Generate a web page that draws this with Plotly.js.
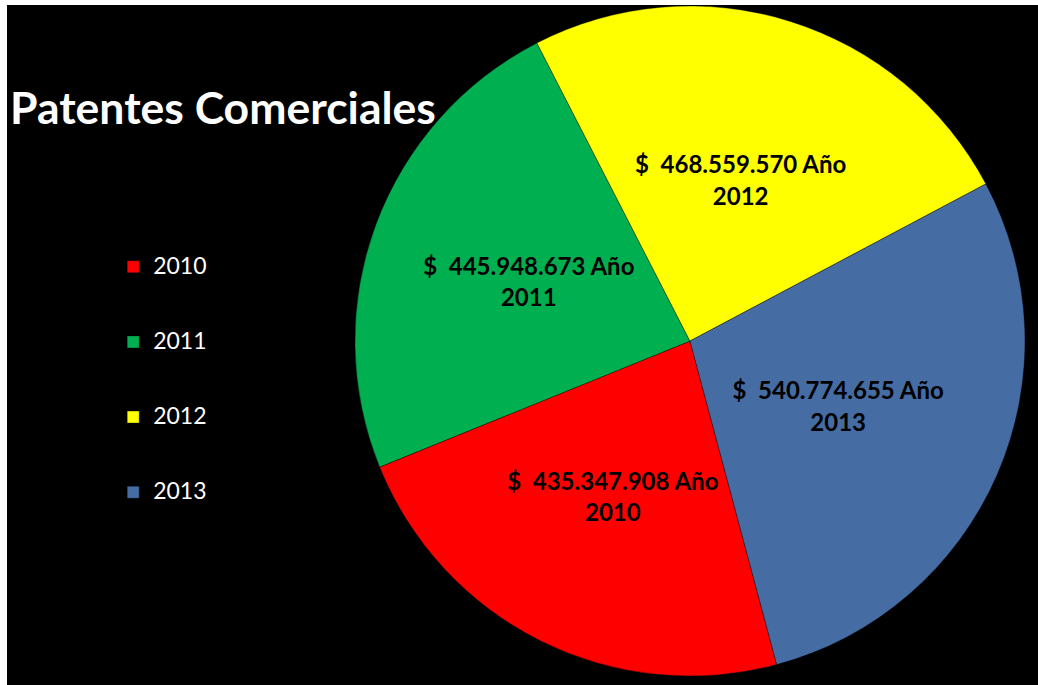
<!DOCTYPE html>
<html>
<head>
<meta charset="utf-8">
<script src="https://cdn.plot.ly/plotly-3.0.1.min.js"></script>
<style>
html, body { margin: 0; padding: 0; background: #ffffff; width: 1038px; height: 685px; overflow: hidden; }
#chart { position: absolute; left: 7px; top: 5px; width: 1031px; height: 680px; }
</style>
</head>
<body>
<div id="chart"></div>
<script>
const years = ['2010', '2011', '2012', '2013'];
const amounts = [435347908, 445948673, 468559570, 540774655];
const sliceColors = ['#ff0000', '#00b050', '#ffff00', '#456ca3'];
const chartTitle = 'Patentes Comerciales';

// main pie: slices + legend
const pieTrace = {
  type: 'pie',
  labels: years.map(y => '<br><span style="font-size:23px">' + y + '</span><br> '),
  values: amounts,
  sort: false,
  direction: 'clockwise',
  rotation: 165,
  marker: { colors: sliceColors, line: { color: 'rgba(0,0,0,0.35)', width: 1 } },
  textinfo: 'none',
  hoverinfo: 'none',
  domain: { x: [0.3375, 0.9874], y: [0.0132, 0.9985] }
};

// same data, transparent, smaller radius: only carries the data labels
const labelTrace = {
  type: 'pie',
  labels: years,
  values: amounts,
  customdata: years,
  sort: false,
  direction: 'clockwise',
  rotation: 165,
  showlegend: false,
  marker: { colors: years.map(() => 'rgba(0,0,0,0)'), line: { width: 0 } },
  texttemplate: '$\u00a0\u00a0%{value:,.0f} Año<br>%{customdata}',
  textposition: 'inside',
  insidetextorientation: 'horizontal',
  textfont: { family: 'Lato, sans-serif', size: 24, color: '#000000', weight: 'bold' },
  hoverinfo: 'none',
  domain: { x: [0.3831, 0.9418], y: [0.0824, 0.9294] }
};

const layout = {
  width: 1031, height: 680,
  margin: { l: 0, r: 0, t: 0, b: 0 },
  paper_bgcolor: '#000000',
  separators: ',.',
  title: {
    text: '<b>' + chartTitle + '</b>',
    font: { family: 'Lato, sans-serif', size: 44.5, color: '#ffffff' },
    x: 0.003, xanchor: 'left', xref: 'container',
    y: 0.848, yanchor: 'middle', yref: 'container'
  },
  showlegend: true,
  legend: {
    x: 0.103, xanchor: 'left',
    y: 0.449, yanchor: 'middle',
    font: { family: 'Lato, sans-serif', size: 18.5, color: '#ffffff' },
    bgcolor: 'rgba(0,0,0,0)',
    traceorder: 'normal'
  }
};

Plotly.newPlot('chart', [pieTrace, labelTrace], layout, { displayModeBar: false, staticPlot: true });
</script>
</body>
</html>
